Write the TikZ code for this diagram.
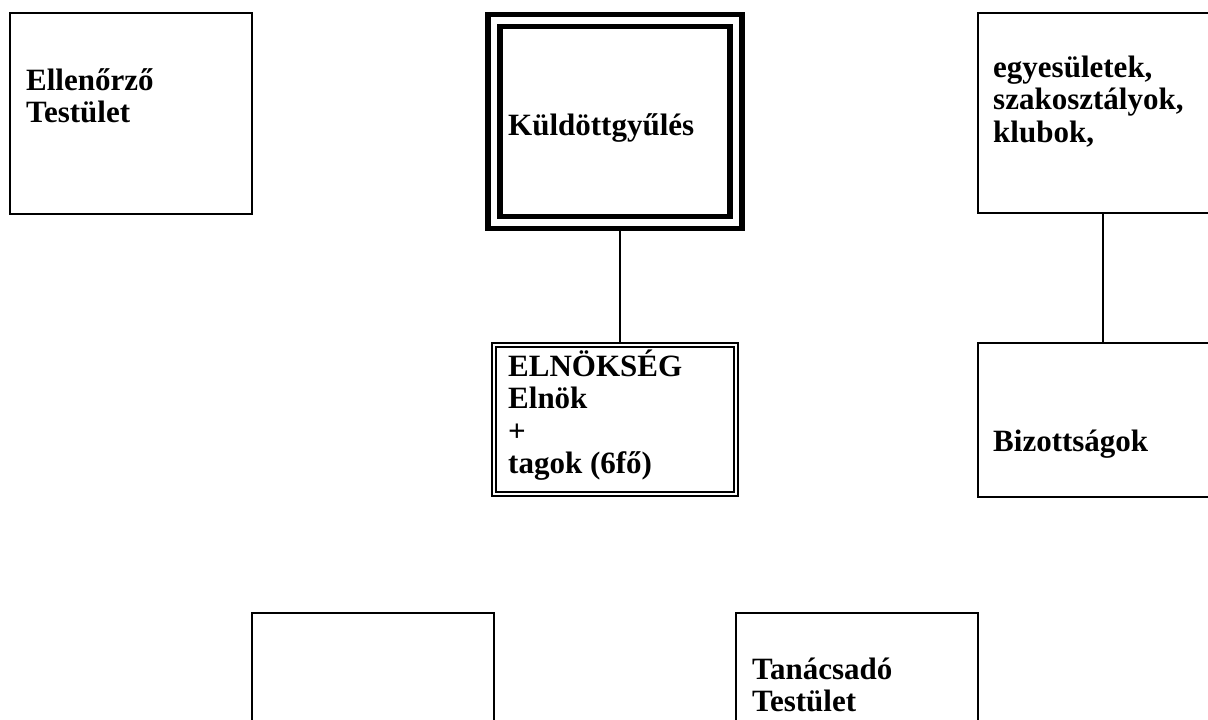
\documentclass[tikz,border=0pt]{standalone}
\usepackage{fontspec}
\setmainfont{Liberation Serif}
\newcommand{\lines}[1]{\begin{tabular}[t]{@{}l@{}}#1\end{tabular}}
\begin{document}
\begin{tikzpicture}[x=1pt,y=-1pt,
  box/.style={draw, line width=1.8pt, rectangle, inner sep=0pt, outer sep=0pt, anchor=north west},
  lbl/.style={anchor=base west, inner sep=0pt, font=\fontsize{31}{32.5}\selectfont\bfseries},
  conn/.style={line width=1.3pt}]
\clip (0,0) rectangle (1208,720);
\fill[white] (0,0) rectangle (1208,720);
% boxes
\node[box, minimum width=242pt, minimum height=201pt] (ell) at (10,13) {};
\node[draw, double, line width=5.5pt, double distance=6.5pt, rectangle, inner sep=0pt,
      outer sep=8.75pt, minimum width=242pt, minimum height=201.8pt] (kuld) at (615,121.4) {};
\node[draw, double, line width=1.3pt, double distance=2.7pt, rectangle, inner sep=0pt,
      outer sep=2.65pt, minimum width=242pt, minimum height=149pt] (elnok) at (615,419.5) {};
\node[box, minimum width=262pt, minimum height=200pt] (egy) at (978,13) {};
\node[box, minimum width=262pt, minimum height=154pt] (biz) at (978,343) {};
\node[box, minimum width=242pt, minimum height=147pt] (ures) at (252,613) {};
\node[box, minimum width=242pt, minimum height=147pt] (tan) at (736,613) {};
% connectors
\draw[conn] ([xshift=5pt]kuld.south) -- ([xshift=5pt]elnok.north);
\draw[conn] ([xshift=-6pt]egy.south) -- ([xshift=-6pt]biz.north);
% labels
\node[lbl] (tell) at (26,90) {\lines{Ellenőrző\\Testület}};
\node[lbl] (tkuld) at (508,135) {Küldöttgyűlés};
\node[lbl] (tegy) at (993,77) {\lines{egyesületek,\\szakosztályok,\\klubok,}};
\node[lbl] (telnok) at (508,376) {\lines{ELNÖKSÉG\\Elnök\\+\\tagok (6fő)}};
\node[lbl] (tbiz) at (993,451) {Bizottságok};
\node[lbl] (ttan) at (752,679) {\lines{Tanácsadó\\Testület}};
\end{tikzpicture}
\end{document}
